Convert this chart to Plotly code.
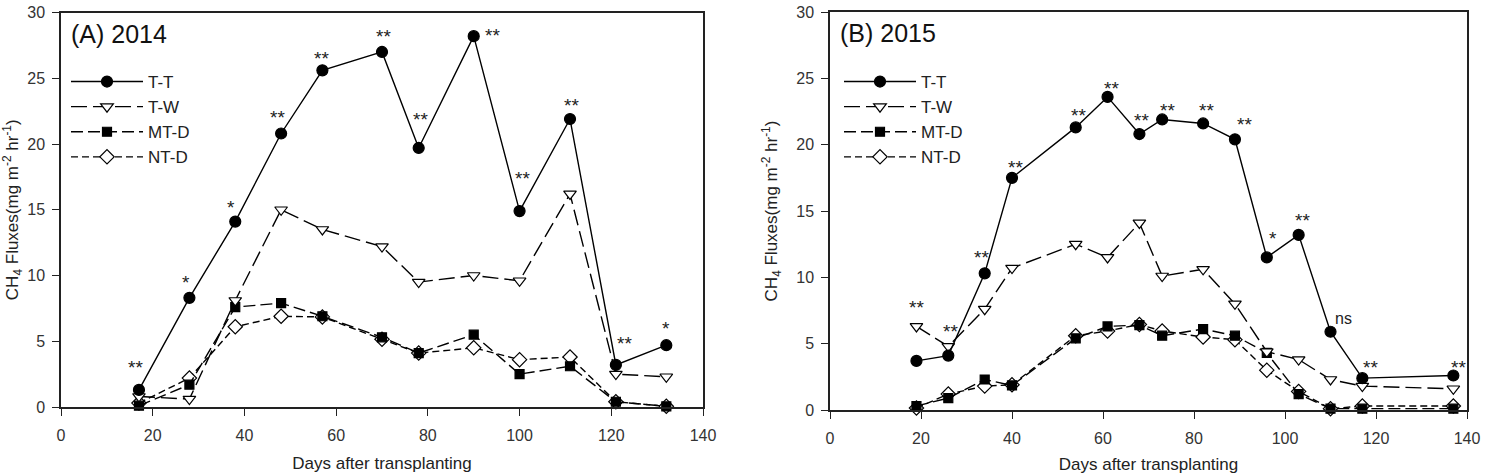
import plotly.graph_objects as go

# ---------------- data ----------------
days_2014 = [17, 28, 38, 48, 57, 70, 78, 90, 100, 111, 121, 132]
tt_2014 = [1.3, 8.3, 14.1, 20.8, 25.6, 27.0, 19.7, 28.2, 14.9, 21.9, 3.2, 4.7]
tw_2014 = [0.8, 0.6, 8.1, 15.0, 13.5, 12.2, 9.5, 10.0, 9.6, 16.2, 2.5, 2.3]
mtd_2014 = [0.1, 1.7, 7.6, 7.9, 6.9, 5.3, 4.1, 5.5, 2.5, 3.1, 0.4, 0.05]
ntd_2014 = [0.3, 2.2, 6.1, 6.9, 6.85, 5.15, 4.1, 4.5, 3.6, 3.8, 0.4, 0.05]
sig_2014 = ["**", "*", "*", "**", "**", "**", "**", "**", "**", "**", "**", "*"]
anchor_2014 = ["T-T"] * 12

days_2015 = [19, 26, 34, 40, 54, 61, 68, 73, 82, 89, 96, 103, 110, 117, 137]
tt_2015 = [3.7, 4.1, 10.3, 17.5, 21.3, 23.6, 20.8, 21.9, 21.6, 20.4, 11.5, 13.2, 5.9, 2.4, 2.6]
tw_2015 = [6.3, 4.8, 7.6, 10.7, 12.5, 11.5, 14.1, 10.1, 10.6, 8.0, 4.4, 3.8, 2.3, 1.8, 1.6]
mtd_2015 = [0.3, 0.9, 2.3, 1.85, 5.4, 6.3, 6.4, 5.6, 6.1, 5.6, 4.3, 1.2, 0.1, 0.1, 0.1]
ntd_2015 = [0.15, 1.2, 1.8, 1.9, 5.6, 5.95, 6.45, 5.95, 5.5, 5.3, 3.0, 1.4, 0.1, 0.3, 0.3]
sig_2015 = ["**", "**", "**", "**", "**", "**", "**", "**", "**", "**", "*", "**", "ns", "**", "**"]
anchor_2015 = ["T-W", "T-W"] + ["T-T"] * 13

series_names = ["T-T", "T-W", "MT-D", "NT-D"]
panel_titles = ["(A) 2014", "(B) 2015"]
x_ticks = [0, 20, 40, 60, 80, 100, 120, 140]
y_ticks = [0, 5, 10, 15, 20, 25, 30]

# ---------------- styles ----------------
FONT = "Liberation Sans, Arial, sans-serif"
styles = {
    "T-T": dict(dash="solid", symbol="circle", fill="black", size=11),
    "T-W": dict(dash="16px,6px", symbol="triangle-down", fill="white", size=11),
    "MT-D": dict(dash="12px,5px", symbol="square", fill="black", size=9),
    "NT-D": dict(dash="7px,4px", symbol="diamond", fill="white", size=11),
}
# visual label offsets (px right, px up) relative to anchor point
off_2014 = [(-3, 27), (-3, 20), (-4, 19), (-4, 21), (-1, 17), (1, 20), (2, 33),
            (19, 6), (3, 38), (1, 19), (9, 26), (0, 22)]
off_2015 = [(0, 24), (2, 20), (-3, 21), (3, 15), (3, 17), (4, 13), (2, 19), (5, 14),
            (3, 18), (10, 20), (6, 24), (4, 19), (13, 12), (8, 16), (5, 13)]

fig = go.Figure()

panels = [
    (days_2014, {"T-T": tt_2014, "T-W": tw_2014, "MT-D": mtd_2014, "NT-D": ntd_2014},
     sig_2014, anchor_2014, off_2014, "x", "y", "legend"),
    (days_2015, {"T-T": tt_2015, "T-W": tw_2015, "MT-D": mtd_2015, "NT-D": ntd_2015},
     sig_2015, anchor_2015, off_2015, "x2", "y2", "legend2"),
]

annotations = []
for (days, vals, sigs, anchors, offs, xa, ya, leg) in panels:
    for name in reversed(series_names):
        st = styles[name]
        fig.add_trace(go.Scatter(
            x=days, y=vals[name], name=name, mode="lines+markers",
            xaxis=xa, yaxis=ya, legend=leg, cliponaxis=False,
            line=dict(color="black", width=1.4, dash=st["dash"]),
            marker=dict(symbol=st["symbol"], size=st["size"], color=st["fill"],
                        line=dict(color="black", width=1.2)),
            legendrank=series_names.index(name) + 1,
        ))
    for d, s, a, (dx, dy) in zip(days, sigs, anchors, offs):
        yv = vals[a][days.index(d)]
        is_star = "*" in s
        annotations.append(dict(
            x=d, y=yv, xref=xa, yref=ya, text=s, showarrow=False,
            xshift=dx, yshift=(dy - 5) if is_star else (dy + 1.5),
            font=dict(family=FONT, size=19 if is_star else 16, color="#222"),
        ))

for i, (xa, ya) in enumerate([("x", "y"), ("x2", "y2")]):
    annotations.append(dict(
        x=0.012, y=0.987, xref=f"{xa} domain", yref=f"{ya} domain", text=panel_titles[i],
        showarrow=False, xanchor="left", yanchor="top",
        font=dict(family=FONT, size=25, color="#111"),
    ))

axis_common = dict(
    showline=True, linecolor="#222", linewidth=1.5, mirror=True,
    ticks="outside", ticklen=7, tickwidth=1.3, tickcolor="#222",
    showgrid=False, zeroline=False,
    tickfont=dict(family=FONT, size=16, color="#333"),
    automargin=False,
)
xt = dict(text="Days after transplanting", font=dict(family=FONT, size=17, color="#222"), standoff=14)
yt = dict(text="CH<sub>4</sub> Fluxes(mg m<sup>-2</sup> hr<sup>-1</sup>)",
          font=dict(family=FONT, size=17, color="#222"), standoff=14)

legend_common = dict(xanchor="left", yanchor="top", bgcolor="rgba(0,0,0,0)",
                     font=dict(family=FONT, size=17, color="#222"),
                     tracegroupgap=0, itemwidth=72)

W, H = 1490, 474
fig.update_layout(
    width=W, height=H,
    margin=dict(l=0, r=0, t=0, b=0),
    paper_bgcolor="white", plot_bgcolor="white",
    font=dict(family=FONT, color="#222"),
    xaxis=dict(domain=[61 / W, 703 / W], range=[0, 140], tickvals=x_ticks,
               anchor="y", title=xt, ticklabelstandoff=6, **axis_common),
    yaxis=dict(domain=[1 - 407 / H, 1 - 12.5 / H], range=[0, 30], tickvals=y_ticks,
               anchor="x", title=yt, ticklabelstandoff=4, **axis_common),
    xaxis2=dict(domain=[830 / W, 1467 / W], range=[0, 140], tickvals=x_ticks,
                anchor="y2", title=xt, ticklabelstandoff=6, **axis_common),
    yaxis2=dict(domain=[1 - 410 / H, 1 - 12 / H], range=[0, 30], tickvals=y_ticks,
                anchor="x2", title=yt, ticklabelstandoff=4, **axis_common),
    legend=dict(x=66 / W, y=1 - 64 / H, **legend_common),
    legend2=dict(x=839 / W, y=1 - 64 / H, **legend_common),
    annotations=annotations,
    showlegend=True,
)

fig.write_html("out.html")
